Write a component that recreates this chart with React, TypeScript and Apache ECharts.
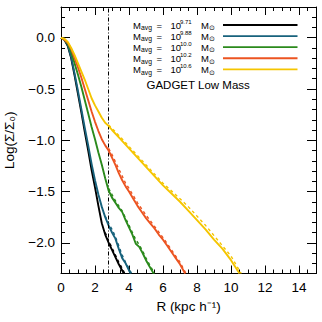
import React, { useEffect, useRef } from "react";
import * as echarts from "echarts";

// ---- data ----
const massExponents = ["9.71", "9.88", "10.0", "10.2", "10.6"];
const lineColors = ["#000000", "#17627c", "#2b8a1c", "#ec5421", "#f5c500"];
const caption = "GADGET Low Mass";

const xMajorTicks = [0, 2, 4, 6, 8, 10, 12, 14];
const yMajorTicks = [-2.0, -1.5, -1.0, -0.5, 0.0];
const guideRadius = 2.8;

const rBlack = [0, 0.2, 0.4, 0.6, 0.8, 1.0, 1.2, 1.4, 1.6, 1.8, 2.0, 2.2, 2.4, 2.6, 2.8, 3.0, 3.2, 3.4, 3.6, 3.7];
const logBlack = [0, -0.02, -0.08, -0.2, -0.37, -0.55, -0.73, -0.92, -1.1, -1.29, -1.46, -1.64, -1.81, -1.92, -2.0, -2.07, -2.14, -2.21, -2.27, -2.3];

const rBlue = [0, 0.2, 0.4, 0.6, 0.8, 1.0, 1.2, 1.4, 1.6, 1.8, 2.0, 2.2, 2.4, 2.6, 2.8, 3.0, 3.2, 3.4, 3.6, 3.8, 4.0, 4.1];
const logBlue = [0, -0.02, -0.07, -0.19, -0.35, -0.52, -0.7, -0.88, -1.05, -1.23, -1.39, -1.53, -1.65, -1.75, -1.83, -1.9, -1.96, -2.06, -2.15, -2.2, -2.27, -2.3];

const rGreen = [0, 0.2, 0.4, 0.6, 0.8, 1.0, 1.2, 1.4, 1.6, 1.8, 2.0, 2.2, 2.4, 2.6, 2.8, 3.0, 3.2, 3.4, 3.6, 3.8, 4.0, 4.2, 4.4, 4.6, 4.8, 5.0, 5.2, 5.45];
const logGreen = [0, -0.02, -0.06, -0.14, -0.25, -0.36, -0.48, -0.61, -0.74, -0.87, -0.99, -1.12, -1.24, -1.37, -1.49, -1.56, -1.61, -1.66, -1.7, -1.78, -1.85, -1.92, -2.01, -2.04, -2.1, -2.17, -2.23, -2.3];

const rOrange = [0, 0.2, 0.4, 0.6, 0.8, 1.0, 1.2, 1.4, 1.6, 1.8, 2.0, 2.2, 2.4, 2.6, 2.8, 3.0, 3.2, 3.4, 3.6, 3.8, 4.0, 4.25, 4.5, 4.75, 5.0, 5.25, 5.5, 5.75, 6.0, 6.25, 6.5, 6.75, 7.0, 7.3];
const logOrange = [0, -0.02, -0.05, -0.11, -0.2, -0.29, -0.39, -0.5, -0.61, -0.72, -0.82, -0.91, -0.99, -1.05, -1.1, -1.17, -1.24, -1.32, -1.39, -1.45, -1.5, -1.57, -1.64, -1.7, -1.76, -1.81, -1.86, -1.92, -1.97, -2.03, -2.09, -2.15, -2.21, -2.3];

const rYellow = [0, 0.2, 0.4, 0.6, 0.8, 1.0, 1.2, 1.4, 1.6, 1.8, 2.0, 2.2, 2.4, 2.6, 2.8, 3.0, 3.5, 4.0, 4.5, 5.0, 5.5, 6.0, 6.5, 7.0, 7.5, 8.0, 8.5, 9.0, 9.5, 10.0, 10.5];
const logYellow = [0, -0.01, -0.04, -0.1, -0.17, -0.25, -0.33, -0.41, -0.5, -0.59, -0.66, -0.72, -0.78, -0.83, -0.86, -0.9, -0.99, -1.08, -1.17, -1.26, -1.35, -1.44, -1.52, -1.6, -1.69, -1.78, -1.87, -1.97, -2.06, -2.17, -2.3];

// dashed companions (second profile, nearly overlapping)
const rBlackDash = [2.6, 2.8, 3.0, 3.2, 3.4, 3.6, 3.75];
const logBlackDash = [-1.9, -1.98, -2.05, -2.12, -2.19, -2.25, -2.3];
const rBlueDash = [2.6, 2.8, 3.0, 3.2, 3.4, 3.6, 3.8, 4.0, 4.15];
const logBlueDash = [-1.74, -1.81, -1.87, -1.94, -2.03, -2.12, -2.19, -2.25, -2.3];
const rGreenDash = [2.8, 3.0, 3.2, 3.4, 3.6, 3.8, 4.0, 4.2, 4.4, 4.6, 4.8, 5.0, 5.2, 5.5];
const logGreenDash = [-1.47, -1.53, -1.59, -1.64, -1.69, -1.76, -1.83, -1.9, -1.97, -2.02, -2.08, -2.15, -2.21, -2.3];
const rOrangeDash = [2.8, 3.0, 3.2, 3.4, 3.6, 3.8, 4.0, 4.5, 5.0, 5.5, 6.0, 6.5, 7.0, 7.35];
const logOrangeDash = [-1.08, -1.14, -1.21, -1.28, -1.35, -1.42, -1.47, -1.61, -1.73, -1.84, -1.95, -2.07, -2.19, -2.3];
const rYellowDash = [2.8, 3.5, 4.0, 5.0, 6.0, 7.0, 7.5, 8.0, 8.5, 9.0, 9.5, 10.0, 10.6];
const logYellowDash = [-0.85, -0.97, -1.06, -1.24, -1.42, -1.57, -1.65, -1.74, -1.83, -1.93, -2.03, -2.13, -2.3];

const solidR = [rBlack, rBlue, rGreen, rOrange, rYellow];
const solidLog = [logBlack, logBlue, logGreen, logOrange, logYellow];
const dashR = [rBlackDash, rBlueDash, rGreenDash, rOrangeDash, rYellowDash];
const dashLog = [logBlackDash, logBlueDash, logGreenDash, logOrangeDash, logYellowDash];

const zip = (xs: number[], ys: number[]) => xs.map((x, i) => [x, ys[i]]);

const FONT = "Liberation Sans";
const fmt = (v: number) => v.toFixed(1).replace("-", "\u2212");

function buildOption() {
  const series: any[] = [];
  solidR.forEach((xs, i) => {
    series.push({
      name: "M_avg = 10^" + massExponents[i],
      type: "line",
      data: zip(xs, solidLog[i]),
      showSymbol: false,
      symbol: "none",
      smooth: false,
      lineStyle: { color: lineColors[i], width: 1.9 },
      z: 3 + i,
      ...(i === 0
        ? {
            markLine: {
              silent: true,
              symbol: "none",
              label: { show: false },
              lineStyle: { color: "#000", width: 1, type: [4, 2, 1, 2] },
              data: [{ xAxis: guideRadius }],
            },
          }
        : {}),
    });
    series.push({
      name: "dash " + massExponents[i],
      type: "line",
      data: zip(dashR[i], dashLog[i]),
      showSymbol: false,
      symbol: "none",
      lineStyle: { color: lineColors[i], width: 1.4, type: [3, 3] },
      z: 2,
    });
  });

  const axisLine = { show: true, onZero: false, lineStyle: { color: "#000", width: 1 } };
  const noLine = { show: false, onZero: false };
  const xBase = { type: "value", min: 0, max: 15, splitLine: { show: false } };
  const yBase = { type: "value", min: -2.3, max: 0.3, splitLine: { show: false } };

  const xAxis = [
    {
      ...xBase,
      position: "bottom",
      axisLine,
      axisTick: { show: true, inside: true, length: 8, customValues: xMajorTicks, lineStyle: { color: "#000" } },
      axisLabel: { show: true, customValues: xMajorTicks, margin: 7, color: "#000", fontSize: 13.5, fontFamily: FONT, formatter: (v: number) => String(v) },
      name: "R (kpc h\u207B\u00B9)",
      nameLocation: "middle",
      nameGap: 22,
      nameTextStyle: { color: "#000", fontSize: 13.5, fontFamily: FONT },
    },
    {
      ...xBase,
      position: "bottom",
      interval: 0.5,
      axisLine: noLine,
      axisTick: { show: true, inside: true, length: 4, lineStyle: { color: "#000" } },
      axisLabel: { show: false },
    },
    {
      ...xBase,
      position: "top",
      axisLine,
      axisTick: { show: true, inside: true, length: 8, customValues: xMajorTicks, lineStyle: { color: "#000" } },
      axisLabel: { show: false },
    },
    {
      ...xBase,
      position: "top",
      interval: 0.5,
      axisLine: noLine,
      axisTick: { show: true, inside: true, length: 4, lineStyle: { color: "#000" } },
      axisLabel: { show: false },
    },
  ];

  const yAxis = [
    {
      ...yBase,
      position: "left",
      axisLine,
      axisTick: { show: true, inside: true, length: 9, customValues: yMajorTicks, lineStyle: { color: "#000" } },
      axisLabel: { show: true, customValues: yMajorTicks, margin: 6, color: "#000", fontSize: 13.5, fontFamily: FONT, formatter: fmt },
      name: "Log(\u03A3/\u03A3\u2080)",
      nameLocation: "middle",
      nameGap: 45,
      nameTextStyle: { color: "#000", fontSize: 13.5, fontFamily: FONT },
    },
    {
      ...yBase,
      position: "left",
      interval: 0.1,
      axisLine: noLine,
      axisTick: { show: true, inside: true, length: 4, lineStyle: { color: "#000" } },
      axisLabel: { show: false },
    },
    {
      ...yBase,
      position: "right",
      axisLine,
      axisTick: { show: true, inside: true, length: 9, customValues: yMajorTicks, lineStyle: { color: "#000" } },
      axisLabel: { show: false },
    },
    {
      ...yBase,
      position: "right",
      interval: 0.1,
      axisLine: noLine,
      axisTick: { show: true, inside: true, length: 4, lineStyle: { color: "#000" } },
      axisLabel: { show: false },
    },
  ];

  // legend drawn as graphic
  const graphic: any[] = [];
  const rowY0 = 25;
  const rowStep = 11.08;
  const txt = (x: number, y: number, text: string, size: number, extra: any = {}) => ({
    type: "text",
    x,
    y,
    silent: true,
    style: { text, fill: "#000", fontSize: size, fontFamily: FONT, verticalAlign: "middle", ...extra },
  });
  massExponents.forEach((e, i) => {
    const y = rowY0 + i * rowStep;
    graphic.push(txt(133, y + 0.5, "M", 9.5));
    graphic.push(txt(141, y + 2.8, "avg", 6.8));
    graphic.push(txt(156.5, y + 0.5, "=", 9.5));
    graphic.push(txt(170.5, y + 0.5, "10", 9.5));
    graphic.push(txt(180, y - 3.3, e, 6));
    graphic.push(txt(201, y + 0.5, "M", 9.5));
    graphic.push(txt(209, y + 2.8, "\u2299", 6.5));
    graphic.push({
      type: "line",
      silent: true,
      shape: { x1: 223, y1: y, x2: 297.5, y2: y },
      style: { stroke: lineColors[i], lineWidth: 1.8 },
    });
  });
  graphic.push(txt(146.5, 84.5, caption, 11.5));

  return {
    animation: false,
    backgroundColor: "#ffffff",
    grid: { left: 61, right: 6, top: 7, bottom: 48.5, containLabel: false, outerBoundsMode: "none" },
    xAxis,
    yAxis,
    series,
    graphic,
  };
}

export default function App() {
  const ref = useRef<HTMLDivElement>(null);
  useEffect(() => {
    if (!ref.current) return;
    const chart = echarts.init(ref.current, undefined, { renderer: "svg" });
    chart.setOption(buildOption() as any);
    return () => chart.dispose();
  }, []);
  return <div ref={ref} style={{ position: "fixed", left: 0, top: 0, width: 322, height: 322 }} />;
}
